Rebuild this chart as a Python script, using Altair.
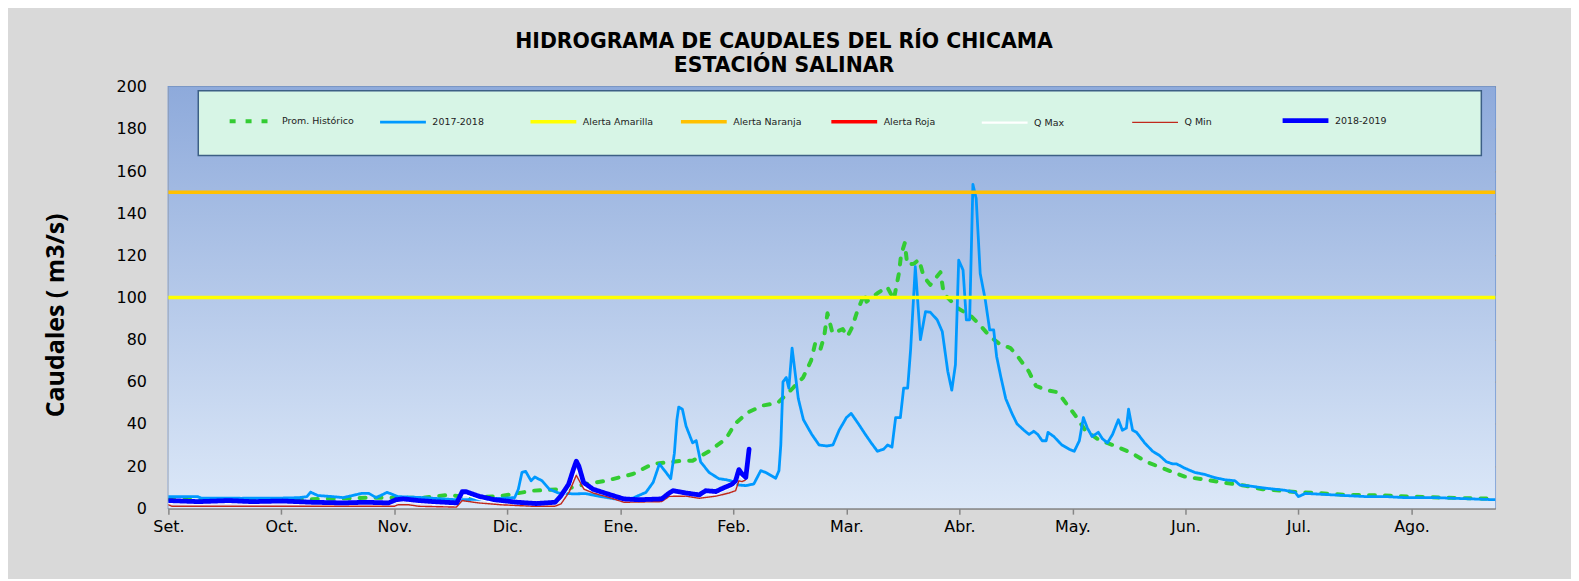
import altair as alt
import pandas as pd

# ---------------- data ----------------
SERIES = ["Prom. Histórico", "2017-2018", "Alerta Amarilla", "Alerta Naranja",
          "Alerta Roja", "Q Max", "Q Min", "2018-2019"]
COLORS = ["#33cc33", "#0099ff", "#ffff00", "#ffc000", "#ff0000", "#ffffff", "#c0281c", "#0000ff"]
WIDTHS = [4, 2.8, 3.5, 3.5, 3.5, 2.2, 1.4, 4.8]
DASHES = [[6, 10], [1, 0], [1, 0], [1, 0], [1, 0], [1, 0], [1, 0], [1, 0]]

MONTHS = ["Set.", "Oct.", "Nov.", "Dic.", "Ene.", "Feb.", "Mar.", "Abr.", "May.", "Jun.", "Jul.", "Ago."]
MONTH_TICKS = [0, 31, 62, 93, 124, 155, 186, 217, 248, 279, 310, 341]

prom_day = [0, 31, 45, 55, 62, 70, 77, 83, 91, 100, 109, 114.6, 120, 127.4, 132.8, 136.5, 141, 143.8,
            148.3, 153, 155.4, 159, 163, 167.2, 171.3, 174.1, 176.3, 177.4, 178.8, 179.9, 180.8, 182.2,
            185, 186.3, 187.6, 189, 191, 191.5, 194.5, 197.2, 199, 200.4, 201, 202, 202.7, 204.5,
            205.9, 207.2, 209, 210.4, 211.8, 212.7, 214.5, 216.8, 220, 222.7, 225.5, 228, 231, 233,
            236, 238, 241, 244, 248.8, 251.5, 255.2, 259.9, 264.1, 268.3, 273.6, 278.8, 284, 289.3,
            295.5, 300.2, 309.3, 315.7, 323, 332, 341.3, 350.4, 359.5, 364]
prom_q = [4, 4, 4.5, 5, 5, 5, 6.3, 5, 5.7, 8.3, 9.1, 11.5, 13, 16.2, 21, 21.7, 22.5, 22.5,
          27, 33, 40, 45.5, 48.7, 50, 57, 62, 70, 78, 75, 81.5, 92.5, 83,
          85, 81.5, 86, 93.6, 102, 98, 102, 105, 99, 111.5, 120.3, 125.8, 115.6, 116,
          118, 110, 106, 109, 112, 101.8, 98.6, 94.6, 91.5, 86.8, 81.3, 78, 76, 72,
          65, 58, 56, 55, 44, 37, 32.5, 29.4, 26.3, 22, 18.4, 15, 13.6, 12.2,
          10.6, 9, 7.7, 7.1, 6.3, 6.1, 5.5, 5, 4.6, 4.5]

y1718_day = [0, 8, 9, 20, 31, 36, 38, 39, 41, 45, 48, 53, 55, 57, 60, 63, 70, 79, 85, 95, 96, 97,
             98, 99.5, 100.5, 102.5, 104.5, 107, 111, 114.5, 118, 122.5, 126, 127.5, 129, 131, 133,
             134.7, 136.5, 137.8, 138.8, 139.5, 140, 141, 142, 143.8, 144.8, 146, 148.3, 151, 153,
             154.3, 156.5, 158.4, 160.6, 162.5, 163.8, 166.6, 167.5, 168, 168.6, 169.5, 170.2, 171.1,
             172.8, 174.2, 176.5, 178.5, 180.6, 182.3, 184, 186, 187.3, 189.3, 191.2, 192.8, 194.5,
             196.2, 197.3, 198.5, 199.5, 200.8, 201.7, 202.8, 203.6, 204.9, 206.3, 207.7, 209, 210.9,
             212.3, 213.8, 214.9, 215.9, 216.8, 218, 218.9, 219.8, 220.7, 221.6, 222.7, 224.1, 225.3,
             226.4, 227.2, 228.4, 229.7, 231.4, 232.8, 234.7, 236.1, 237.4, 238.5, 239.7, 240.8,
             241.3, 242.9, 245.1, 247.1, 248.5, 249.9, 251, 252.1, 253.4, 255.1, 256.2, 257.6, 259,
             260.6, 261.7, 262.8, 263.4, 264.5, 265.6, 267.8, 270, 271.9, 273.8, 275.5, 276.6, 278.8,
             281.5, 284.3, 287, 289.8, 292.6, 293.9, 296.7, 300.8, 306.3, 309.1, 310, 311.9, 317.4,
             322.8, 328.4, 333.9, 339.4, 347.6, 355.9, 364]
y1718_q = [5.5, 5.5, 4.8, 4.7, 4.8, 5, 5.5, 7.6, 6, 5.5, 5, 7, 7, 5, 7.5, 5.5, 5, 4, 4.2, 5, 9, 17,
           17.5, 13, 14.8, 13, 9, 7.2, 6.8, 6.9, 5.7, 4.4, 4.5, 4.8, 6, 7.5, 12.3,
           21, 17, 14, 26, 42, 48, 47, 39, 31, 32, 22, 17, 14, 13.5,
           13, 11, 10.7, 11.5, 17.8, 17, 14.2, 17.8, 30, 60, 62, 57, 76,
           52, 42, 35, 30, 29.5, 30, 37, 43, 45, 40, 35, 31, 27,
           28, 30, 29, 43, 43, 57, 57, 75, 114.6, 80, 93.3, 93, 89.4,
           83.8, 65, 56, 68, 117.7, 113, 89.4, 89.4, 153.7, 146.9, 111.4, 98.8, 84.6,
           84.6, 72, 62, 52, 45, 40, 37, 35, 36.5, 35, 32, 32,
           36, 34, 30, 28, 27, 32, 43, 38, 34, 36, 33, 31, 35,
           42, 37, 38, 47, 37, 36, 31, 27, 25, 22, 21, 21, 19,
           17, 16, 14.5, 13.5, 13, 11, 10.5, 9.5, 8.5, 7.5, 5.5, 7, 6.5,
           6, 5.5, 5.5, 5, 5, 4.5, 4]

y1819_day = [0, 8.3, 16.6, 22.9, 31.2, 39.5, 47.9, 54.1, 60.4, 62.4, 64.5, 68.7, 72.8, 79.1, 80.6,
             81.7, 85.3, 89.5, 95.7, 100.9, 106.1, 107.7, 109.8, 111.1, 111.9, 112.6, 113.9, 116.5,
             119.7, 124.9, 129.1, 135.3, 137.4, 138.4, 142, 145.6, 147.4, 150.2, 152, 153.8, 154.7,
             155.6, 156.5, 157.4, 158.4, 159.3]
y1819_q = [3.6, 3.1, 3.6, 3.1, 3.4, 2.8, 2.5, 2.8, 2.5, 4, 4.4, 3.6, 3.1, 2.5, 7.8,
           7.8, 5.6, 4, 2.8, 2.2, 2.8, 5.9, 11.4, 18.4, 22.3, 20, 12.2, 9,
           7.2, 4.4, 4, 4.4, 7.2, 8.3, 7.2, 6.3, 8.3, 7.9, 9.4, 10.7, 11.5,
           13, 18.3, 16.2, 14.6, 28]

qmax_day = [0, 8.3, 16.6, 22.9, 31.2, 39.5, 47.9, 54.1, 60.4, 62.4, 64.5, 68.7, 72.8, 79.1, 80.6,
            81.7, 85.3, 89.5, 95.7, 100.9, 106.1, 107.7, 109.8, 111.1, 111.9, 112.6, 113.9, 116.5,
            119.7, 124.9, 129.1, 135.3, 137.4, 138.4, 142, 145.6, 147.4, 150.2, 152, 153.8, 154.7,
            155.6, 156.5, 157.4, 158.4]
qmax_q = [2.6, 2.1, 2.6, 2.1, 2.4, 1.8, 1.5, 1.8, 1.5, 3, 3.4, 2.6, 2.1, 1.5, 6,
          6.3, 4.3, 3, 1.9, 1.4, 1.9, 4.5, 9.5, 15, 18, 16.5, 10.5, 8,
          6.2, 3.5, 3, 3.4, 6, 7, 6.2, 5.4, 7, 6.8, 8.3, 9.6, 10.3,
          11.6, 16, 14.6, 13.5]

qmin_day = [0, 1, 62, 63, 66, 68.7, 79, 80.6, 85, 91.4, 100, 106, 107.7, 110, 111.9, 114, 116.5,
            120.7, 125, 135.3, 137.4, 142, 145.6, 150.2, 153.8, 155.6, 156.5, 157.4, 158.4]
qmin_q = [1.6, 0.9, 0.9, 1.6, 1.6, 0.9, 0.5, 3.6, 2.5, 1.6, 0.9, 0.9, 2, 7.8, 15.6, 9, 7.2,
          5.2, 2.8, 3.1, 5.6, 5.7, 4.7, 5.7, 7.2, 8.3, 13, 12.6, 13.5]

alert_day = [0, 364]
alert_amarilla = [100, 100]
alert_naranja = [150, 150]

# ---------------- table ----------------
rows = []
def add(name, days, vals):
    for d, v in zip(days, vals):
        rows.append({"serie": name, "dia": d, "caudal": v})

add("Prom. Histórico", prom_day, prom_q)
add("2017-2018", y1718_day, y1718_q)
add("Alerta Amarilla", alert_day, alert_amarilla)
add("Alerta Naranja", alert_day, alert_naranja)
add("Q Max", qmax_day, qmax_q)
add("Q Min", qmin_day, qmin_q)
add("2018-2019", y1819_day, y1819_q)
df = pd.DataFrame(rows)

PW, PH = 1332, 423
label_expr = "[" + ",".join("'%s'" % m for m in MONTHS) + "][round(datum.value/31)]"

xscale = alt.Scale(domain=[0, 364], nice=False, zero=False)
yscale = alt.Scale(domain=[0, 200], nice=False)

x_axis = alt.Axis(values=MONTH_TICKS, labelExpr=label_expr, grid=False, title=None,
                  domainColor="#868686", domainWidth=2, tickColor="#868686", tickSize=6,
                  tickWidth=1.5, labelFont="DejaVu Sans", labelFontSize=16, labelColor="#000000",
                  labelPadding=4, labelFlush=False, labelOverlap=False)
y_axis = alt.Axis(values=list(range(0, 201, 20)), grid=True, gridColor="#878787", gridWidth=1.2,
                  domainColor="#868686", domainWidth=1.5, ticks=False,
                  labelFont="DejaVu Sans", labelFontSize=16, labelColor="#000000", labelPadding=22,
                  title="Caudales ( m3/s)", titleFont="Open Sans", titleFontSize=25,
                  titleFontWeight="bold", titleColor="#000000", titlePadding=48, titleY=229)

# background gradient of plot area
bg = alt.Chart(pd.DataFrame({"a": [0]})).mark_rect(
    color=alt.Gradient(gradient="linear",
                       stops=[alt.GradientStop(color="#8eaadb", offset=0),
                              alt.GradientStop(color="#dce8f8", offset=1)],
                       x1=0, x2=0, y1=0, y2=1)
).encode(x=alt.value(0), x2=alt.value(PW), y=alt.value(0), y2=alt.value(PH))

# legend box
legbox = alt.Chart(pd.DataFrame({"a": [0]})).mark_rect(
    fill="#d7f5e6", stroke="#3c5f85", strokeWidth=1.5
).encode(x=alt.value(30), x2=alt.value(1318), y=alt.value(4), y2=alt.value(69))

legend = alt.Legend(orient="none", legendX=59, legendY=8, direction="horizontal", columns=8,
                    gridAlign="all", columnPadding=15, symbolType="stroke", symbolSize=2116,
                    labelFont="DejaVu Sans", labelFontSize=9.5, labelColor="#222222", title=None,
                    labelOffset=4, labelLimit=200)

base = alt.Chart(df).mark_line(clip=True, strokeCap="round", strokeJoin="round").encode(
    x=alt.X("dia:Q", scale=xscale, axis=x_axis),
    y=alt.Y("caudal:Q", scale=yscale, axis=y_axis),
    color=alt.Color("serie:N", scale=alt.Scale(domain=SERIES, range=COLORS), legend=legend),
    strokeDash=alt.StrokeDash("serie:N", scale=alt.Scale(domain=SERIES, range=DASHES), legend=legend),
    strokeWidth=alt.StrokeWidth("serie:N", scale=alt.Scale(type="ordinal", domain=SERIES, range=WIDTHS),
                                legend=legend),
)

draw_order = ["Prom. Histórico", "2017-2018", "Alerta Amarilla", "Alerta Naranja",
              "Q Max", "Q Min", "2018-2019"]
lines = [base.transform_filter(alt.datum.serie == s) for s in draw_order]

chart = alt.layer(bg, legbox, *lines).properties(
    width=PW, height=PH,
    title=alt.TitleParams(text=["HIDROGRAMA DE CAUDALES DEL RÍO CHICAMA", "ESTACIÓN SALINAR"],
                          font="DejaVu Sans", fontSize=20.5, fontWeight="bold", color="#000000",
                          anchor="middle", frame="group", dx=-48, offset=2, lineHeight=24),
    background="#d9d9d9",
    padding={"left": 161, "top": 78, "right": 76, "bottom": 70},
    autosize=alt.AutoSizeParams(type="none"),
).configure_view(stroke="#6d93cf", strokeWidth=1.5)

chart.save("out.html", embed_options={"renderer": "svg", "actions": False})
